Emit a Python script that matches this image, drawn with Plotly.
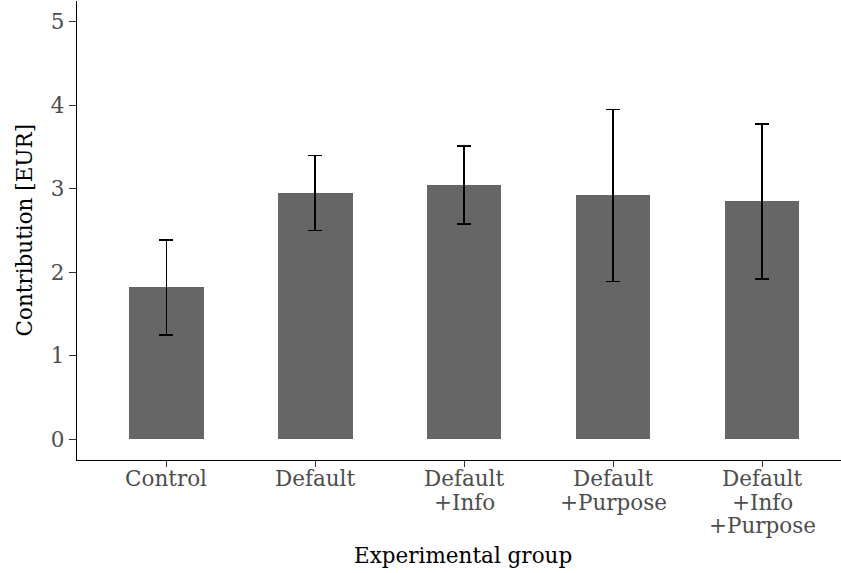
import plotly.graph_objects as go

categories = ["Control", "Default", "Default+Info", "Default+Purpose", "Default+Info+Purpose"]
tick_lines = [["Control"], ["Default"], ["Default", "+Info"], ["Default", "+Purpose"], ["Default", "+Info", "+Purpose"]]
means = [1.82, 2.95, 3.04, 2.92, 2.85]
lower = [1.25, 2.50, 2.58, 1.89, 1.92]
upper = [2.39, 3.40, 3.51, 3.95, 3.78]
y_ticks = [0, 1, 2, 3, 4, 5]

err_plus = [u - m for u, m in zip(upper, means)]
err_minus = [m - l for m, l in zip(means, lower)]

FONT = "DejaVu Serif"
FS = 21.5

fig = go.Figure()
fig.add_trace(go.Bar(
    x=categories, y=means, width=0.5,
    marker=dict(color="#666666", line=dict(width=0)),
    error_y=dict(type="data", symmetric=False, array=err_plus, arrayminus=err_minus,
                 color="black", thickness=1.7, width=7),
))

annotations = []
for cat, lines in zip(categories, tick_lines):
    for i, line in enumerate(lines):
        annotations.append(dict(
            x=cat, xref="x", y=0, yref="paper", text=line, showarrow=False,
            xanchor="center", yanchor="middle", yshift=-18.5 - 23.5 * i,
            font=dict(family=FONT, size=FS, color="#4d4d4d"),
        ))
annotations.append(dict(
    x=(463 - 77) / 764, xref="paper", y=0, yref="paper", yshift=-95,
    text="Experimental group", showarrow=False, xanchor="center", yanchor="middle",
    font=dict(family=FONT, size=FS, color="black"),
))
annotations.append(dict(
    x=(24 - 77) / 764, xref="paper", y=0.5, yref="paper",
    text="Contribution [EUR]", showarrow=False, xanchor="center", yanchor="middle",
    textangle=-90, font=dict(family=FONT, size=FS, color="black"),
))

fig.update_layout(
    width=841, height=573,
    margin=dict(l=77, r=0, t=1, b=113, autoexpand=False),
    paper_bgcolor="white", plot_bgcolor="white",
    showlegend=False,
    bargap=0,
    font=dict(family=FONT, size=FS, color="#4d4d4d"),
    annotations=annotations,
)
fig.update_xaxes(
    type="category", range=[-0.6, 4.53], automargin=False,
    showline=True, linecolor="black", linewidth=1.3,
    ticks="outside", ticklen=6, tickwidth=1.2, tickcolor="#333333",
    showgrid=False, zeroline=False, showticklabels=False,
)
fig.update_yaxes(
    range=[-0.25, 5.25], tickvals=y_ticks, automargin=False,
    showline=True, linecolor="black", linewidth=1.3,
    ticks="outside", ticklen=7, tickwidth=1.2, tickcolor="#333333",
    showgrid=False, zeroline=False,
    tickfont=dict(family=FONT, size=FS, color="#4d4d4d"),
)
fig.write_html("out.html", config={"displayModeBar": False},
               post_script="document.body.style.margin='0';document.body.style.overflow='hidden';")
